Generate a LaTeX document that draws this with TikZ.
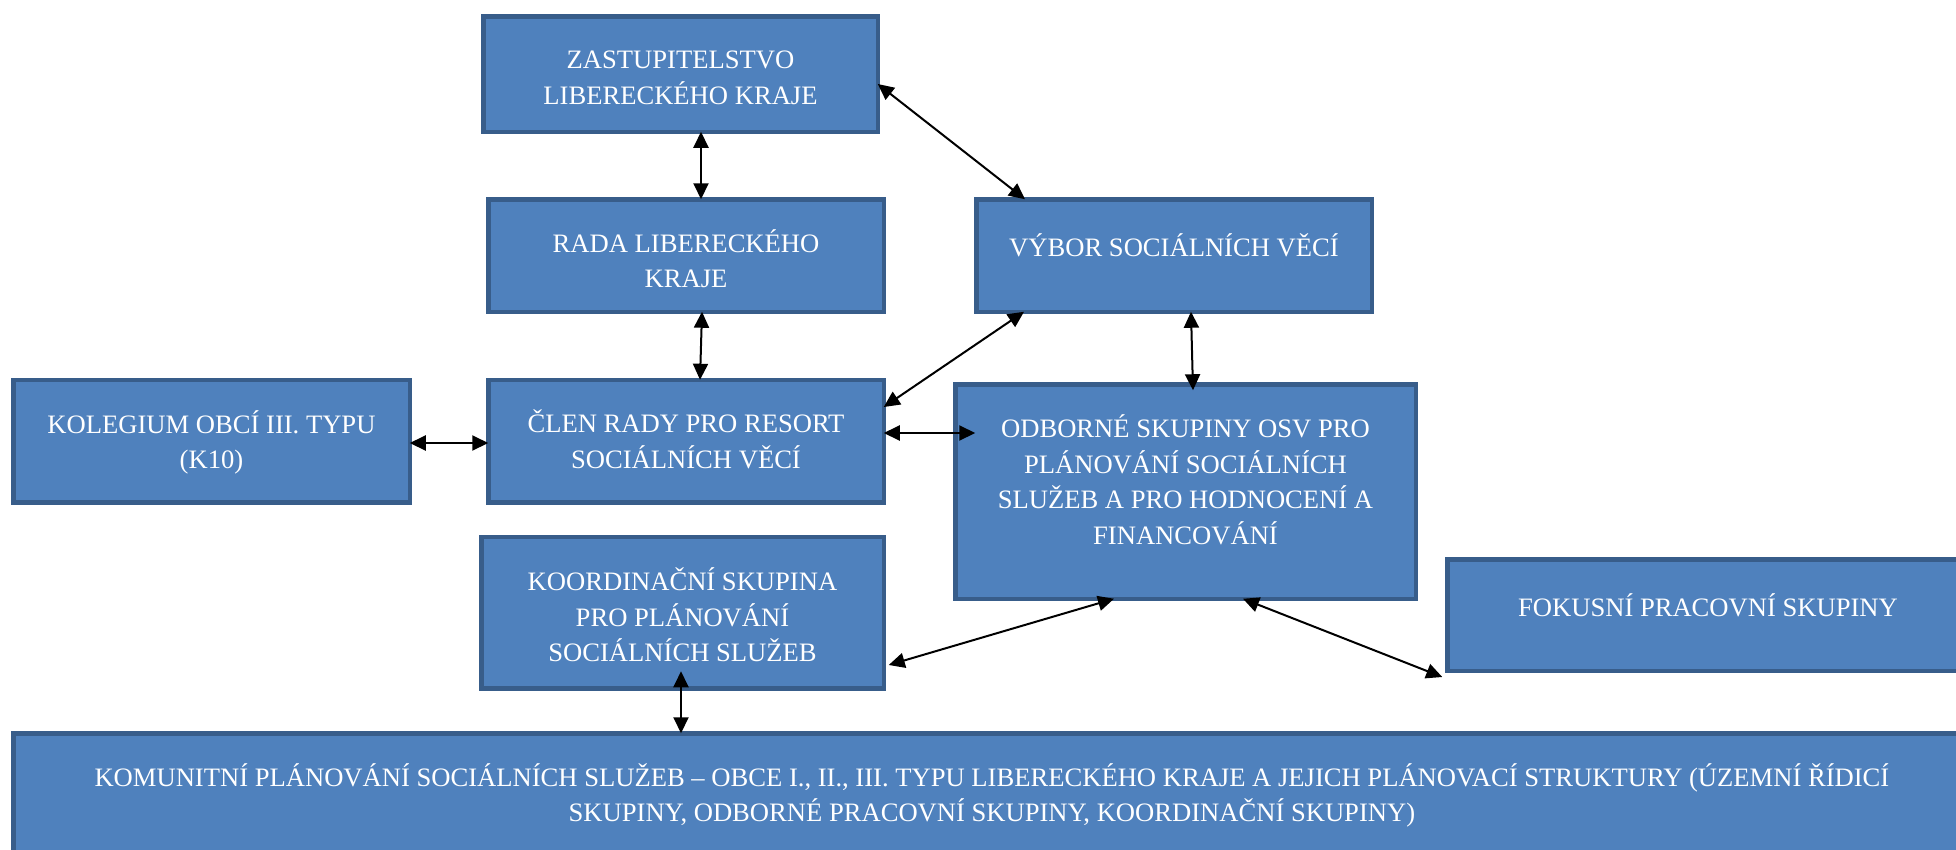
\documentclass[tikz,border=0pt]{standalone}
\usepackage{fontspec}
\setmainfont{Liberation Serif}
\usetikzlibrary{arrows.meta}
\definecolor{boxfill}{HTML}{4F81BD}
\definecolor{boxline}{HTML}{385D8A}
\tikzset{
  orgbox/.style={draw=boxline, fill=boxfill, line width=4.5pt, outer sep=0pt, inner sep=0pt},
  lbl/.style={text=white, align=center, font=\fontsize{26.6pt}{35.5pt}\selectfont, inner sep=0pt},
  link/.style={line width=2pt, {Triangle[length=16pt,width=15pt]}-{Triangle[length=16pt,width=15pt]}}
}
\begin{document}
\begin{tikzpicture}[x=1pt,y=-1pt]
\useasboundingbox (0,0) rectangle (1956,849);
\clip (0,0) rectangle (1956,849);
% boxes
\node[orgbox, minimum width=394.5pt, minimum height=115.5pt,
  label={[lbl,yshift=-4pt]center:ZASTUPITELSTVO\\LIBERECKÉHO KRAJE}] (zast) at (680.5,74) {};
\node[orgbox, minimum width=395.5pt, minimum height=112.5pt,
  label={[lbl,yshift=-3pt]center:RADA LIBERECKÉHO\\KRAJE}] (rada) at (686,255.5) {};
\node[orgbox, minimum width=395.5pt, minimum height=112.5pt,
  label={[lbl,yshift=10.7pt]center:VÝBOR SOCIÁLNÍCH VĚCÍ}] (vybor) at (1174,255.5) {};
\node[orgbox, minimum width=396.5pt, minimum height=122.5pt,
  label={[lbl,yshift=-1.5pt]center:KOLEGIUM OBCÍ III. TYPU\\(K10)}] (koleg) at (211.5,441) {};
\node[orgbox, minimum width=395.5pt, minimum height=122.5pt,
  label={[lbl,yshift=1.5pt]center:ČLEN RADY PRO RESORT\\SOCIÁLNÍCH VĚCÍ}] (clen) at (686,441) {};
\node[orgbox, minimum width=460.5pt, minimum height=214.5pt,
  label={[lbl,yshift=11.5pt]center:ODBORNÉ SKUPINY OSV PRO\\PLÁNOVÁNÍ SOCIÁLNÍCH\\SLUŽEB A PRO HODNOCENÍ A\\FINANCOVÁNÍ}] (odb) at (1185.5,491.5) {};
\node[orgbox, minimum width=402.5pt, minimum height=151.5pt,
  label={[lbl,yshift=-2.5pt]center:KOORDINAČNÍ SKUPINA\\PRO PLÁNOVÁNÍ\\SOCIÁLNÍCH SLUŽEB}] (koord) at (682.5,612.5) {};
\node[orgbox, minimum width=521.5pt, minimum height=111.5pt,
  label={[lbl,yshift=10pt]center:FOKUSNÍ PRACOVNÍ SKUPINY}] (fokus) at (1708,615) {};
\node[orgbox, minimum width=1957.5pt, minimum height=122.5pt,
  label={[lbl,yshift=-1pt]center:KOMUNITNÍ PLÁNOVÁNÍ SOCIÁLNÍCH SLUŽEB – OBCE I., II., III. TYPU LIBERECKÉHO KRAJE A JEJICH PLÁNOVACÍ STRUKTURY (ÚZEMNÍ ŘÍDICÍ\\SKUPINY, ODBORNÉ PRACOVNÍ SKUPINY, KOORDINAČNÍ SKUPINY)}] (komun) at (992,794.5) {};
% connectors
\draw[link] ([xshift=20.5pt]zast.south) -- ([xshift=15pt]rada.north);
\draw[link] ([xshift=16pt]rada.south) -- ([xshift=14pt]clen.north);
\draw[link] ([yshift=-10pt]zast.east) -- ([xshift=-149pt]vybor.north);
\draw[link] ([yshift=34pt]clen.east) -- ([xshift=-150pt]vybor.south);
\draw[link] ([xshift=17pt]vybor.south) -- ([xshift=7.5pt,yshift=-6pt]odb.north);
\draw[link] ([yshift=-2pt]koleg.east) -- ([yshift=-2pt]clen.west);
\draw[link] ([yshift=8pt]clen.east) -- ([xshift=20pt,yshift=58.5pt]odb.west);
\draw[link] ([xshift=5pt,yshift=-52.5pt]koord.east) -- ([xshift=-71.5pt]odb.south);
\draw[link] ([xshift=57.5pt]odb.south) -- ([xshift=-5pt,yshift=-62pt]fokus.west);
\draw[link] ([xshift=-1.5pt,yshift=17pt]koord.south) -- ([xshift=-311pt]komun.north);
\end{tikzpicture}
\end{document}
